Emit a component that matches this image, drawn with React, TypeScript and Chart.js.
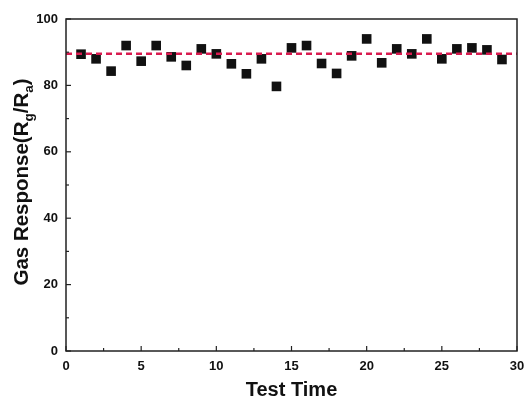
import React, { useEffect, useRef } from "react";
import { Chart, registerables } from "chart.js";
Chart.register(...registerables);

const testTimes = [1, 2, 3, 4, 5, 6, 7, 8, 9, 10, 11, 12, 13, 14, 15, 16, 17, 18, 19, 20, 21, 22, 23, 24, 25, 26, 27, 28, 29];
const responses = [89.4, 88.0, 84.3, 92.0, 87.3, 92.0, 88.6, 86.0, 91.0, 89.5, 86.5, 83.5, 88.0, 79.7, 91.3, 92.0, 86.6, 83.6, 88.9, 94.0, 86.8, 91.0, 89.5, 94.0, 88.0, 91.0, 91.3, 90.7, 87.8];
const averageLineX = [0, 30];
const averageValue = 89.5;
const xTicks = [0, 5, 10, 15, 20, 25, 30];
const yTicks = [0, 20, 40, 60, 80, 100];

const FONT = "'Liberation Sans', Arial, sans-serif";

const framePlugin = {
  id: "frame",
  afterDraw(chart: any) {
    const { ctx, chartArea: a, scales } = chart;
    const x = scales.x, y = scales.y;
    ctx.save();
    ctx.strokeStyle = "#222";
    ctx.lineWidth = 1.5;
    ctx.strokeRect(a.left, a.top, a.right - a.left, a.bottom - a.top);
    ctx.lineWidth = 1.2;
    for (let v = 0; v <= 30; v += 2.5) {
      const px = x.getPixelForValue(v);
      const len = v % 5 === 0 ? 5 : 3;
      ctx.beginPath();
      ctx.moveTo(px, a.bottom);
      ctx.lineTo(px, a.bottom - len);
      ctx.stroke();
    }
    for (let v = 0; v <= 100; v += 10) {
      const py = y.getPixelForValue(v);
      const len = v % 20 === 0 ? 5 : 3;
      ctx.beginPath();
      ctx.moveTo(a.left, py);
      ctx.lineTo(a.left + len, py);
      ctx.stroke();
    }
    // y title with subscripts
    ctx.fillStyle = "#111";
    ctx.translate(22, 182);
    ctx.rotate(-Math.PI / 2);
    const big = `bold 20.5px ${FONT}`;
    const small = `bold 13.5px ${FONT}`;
    const parts: [string, boolean][] = [["Gas Response(R", false], ["g", true], ["/R", false], ["a", true], [")", false]];
    let total = 0;
    for (const [t, sub] of parts) {
      ctx.font = sub ? small : big;
      total += ctx.measureText(t).width;
    }
    let cx = -total / 2;
    ctx.textBaseline = "middle";
    ctx.textAlign = "left";
    for (const [t, sub] of parts) {
      ctx.font = sub ? small : big;
      ctx.fillText(t, cx, sub ? 7 : 0);
      cx += ctx.measureText(t).width;
    }
    ctx.restore();
  },
};

export default function App() {
  const ref = useRef<HTMLCanvasElement>(null);
  useEffect(() => {
    if (!ref.current) return;
    const chart = new Chart(ref.current, {
      type: "scatter",
      data: {
        datasets: [
          {
            type: "line",
            data: averageLineX.map((v) => ({ x: v, y: averageValue })),
            borderColor: "#d81b4f",
            borderWidth: 2.5,
            borderDash: [6, 4],
            pointRadius: 0,
            fill: false,
          } as any,
          {
            data: testTimes.map((t, i) => ({ x: t, y: responses[i] })),
            pointStyle: "rect",
            pointRadius: 6.8,
            backgroundColor: "#111",
            borderColor: "#111",
            borderWidth: 0,
          },
        ],
      },
      options: {
        animation: false,
        responsive: false,
        maintainAspectRatio: false,
        layout: { padding: { top: 19, right: 7, left: 0, bottom: 0 } },
        plugins: { legend: { display: false }, tooltip: { enabled: false } },
        scales: {
          x: {
            type: "linear",
            min: 0,
            max: 30,
            afterBuildTicks: (s: any) => { s.ticks = xTicks.map((v) => ({ value: v })); },
            afterFit: (s: any) => { s.height = 48; s.paddingLeft = 0; s.paddingRight = 0; },
            grid: { display: false, drawTicks: false },
            border: { display: false },
            ticks: { color: "#111", font: { family: FONT, size: 13, weight: "bold" }, padding: 8, maxRotation: 0 },
            title: { display: true, text: "Test Time", color: "#111", font: { family: FONT, size: 20, weight: "bold" }, padding: { top: 0, bottom: -3 } },
          },
          y: {
            type: "linear",
            min: 0,
            max: 100,
            afterBuildTicks: (s: any) => { s.ticks = yTicks.map((v) => ({ value: v })); },
            afterFit: (s: any) => { s.width = 66; s.paddingTop = 0; s.paddingBottom = 0; },
            grid: { display: false, drawTicks: false },
            border: { display: false },
            ticks: { color: "#111", font: { family: FONT, size: 13, weight: "bold" }, padding: 8 },
          },
        },
      },
      plugins: [framePlugin],
    });
    return () => chart.destroy();
  }, []);
  return (
    <div style={{ position: "fixed", left: 0, top: 0, width: 524, height: 399, background: "#fff" }}>
      <canvas ref={ref} width={524} height={399} style={{ width: 524, height: 399 }} />
    </div>
  );
}
